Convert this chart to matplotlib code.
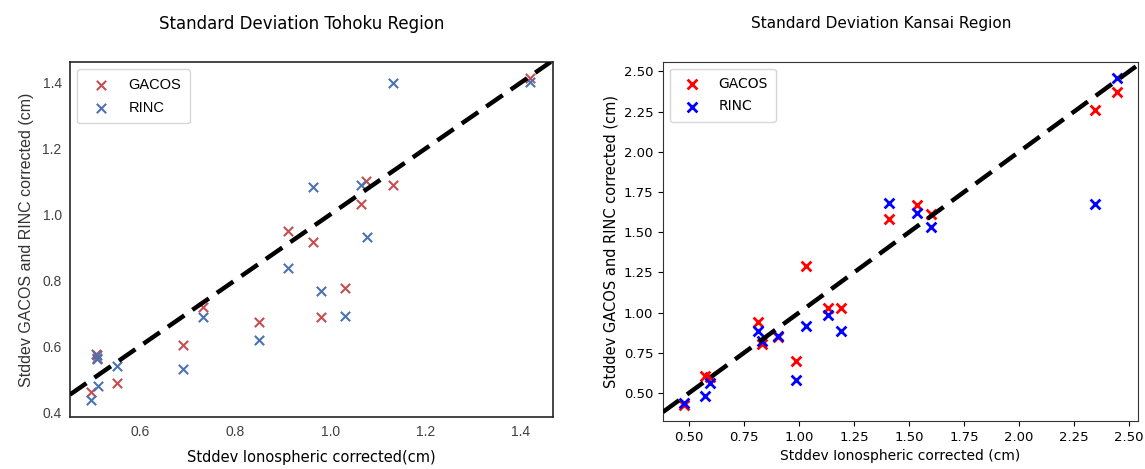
import matplotlib
matplotlib.use("Agg")
import matplotlib.pyplot as plt

# ---- Tohoku data ----
toh_gacos_x = [1.421, 1.076, 1.132, 1.065, 0.911, 0.965, 1.032, 0.981, 0.732, 0.851, 0.690, 0.508, 0.510, 0.551, 0.498]
toh_gacos_y = [1.415, 1.103, 1.091, 1.032, 0.949, 0.917, 0.778, 0.689, 0.718, 0.675, 0.605, 0.575, 0.563, 0.489, 0.462]
toh_rinc_x = [1.421, 1.132, 0.965, 1.065, 1.077, 0.911, 0.981, 1.032, 0.732, 0.851, 0.690, 0.510, 0.510, 0.551, 0.512, 0.498]
toh_rinc_y = [1.404, 1.400, 1.083, 1.091, 0.932, 0.838, 0.769, 0.692, 0.689, 0.619, 0.531, 0.573, 0.560, 0.541, 0.480, 0.436]

# ---- Kansai data ----
kan_gacos_x = [2.443, 2.344, 1.538, 1.599, 1.409, 1.033, 1.132, 1.190, 0.814, 0.834, 0.905, 0.988, 0.571, 0.594, 0.477]
kan_gacos_y = [2.372, 2.262, 1.667, 1.613, 1.584, 1.287, 1.029, 1.029, 0.939, 0.805, 0.850, 0.697, 0.603, 0.597, 0.423]
kan_rinc_x = [2.443, 2.344, 1.409, 1.538, 1.602, 1.132, 1.033, 1.190, 0.814, 0.834, 0.905, 0.988, 0.594, 0.571, 0.477]
kan_rinc_y = [2.459, 1.677, 1.682, 1.619, 1.530, 0.983, 0.914, 0.887, 0.887, 0.825, 0.852, 0.583, 0.562, 0.479, 0.438]

toh_xticks = [0.6, 0.8, 1.0, 1.2, 1.4]
toh_yticks = [0.4, 0.6, 0.8, 1.0, 1.2, 1.4]
kan_ticks = [0.50, 0.75, 1.00, 1.25, 1.50, 1.75, 2.00, 2.25, 2.50]

fig = plt.figure(figsize=(11.45, 4.69), dpi=100)

# ---------------- Left (Tohoku) ----------------
ax1 = fig.add_axes([0.0611, 0.111, 0.422, 0.757])
ax1.scatter(toh_gacos_x, toh_gacos_y, marker='x', s=45, linewidths=1.5, color='#c44e52', label='GACOS', zorder=3)
ax1.scatter(toh_rinc_x, toh_rinc_y, marker='x', s=45, linewidths=1.5, color='#4c72b0', label='RINC', zorder=3)
ax1.axline((0, 0), slope=1, color='black', linestyle=(0, (4.5, 2.2)), linewidth=3.2, zorder=4)
ax1.set_xlim(0.453, 1.469)
ax1.set_ylim(0.385, 1.464)
ax1.set_xticks(toh_xticks)
ax1.set_yticks(toh_yticks)
ax1.set_xticklabels([f"{t:.1f}" for t in toh_xticks], family='Liberation Sans', fontsize=10, color='#404040')
ax1.set_yticklabels([f"{t:.1f}" for t in toh_yticks], family='Liberation Sans', fontsize=10, color='#404040')
ax1.tick_params(length=0, pad=6)
for sp in ax1.spines.values():
    sp.set_color('#262626')
    sp.set_linewidth(1.2)
ax1.set_title('Standard Deviation Tohoku Region', fontsize=12, pad=24, x=0.48)
ax1.set_xlabel('Stddev Ionospheric corrected(cm)', fontsize=10.5, labelpad=8)
ax1.set_ylabel('Stddev GACOS and RINC corrected (cm)', family='Liberation Sans', fontsize=11.5, labelpad=6, color='#333333')
leg1 = ax1.legend(loc='upper left', prop={'family': 'Liberation Sans', 'size': 10.5},
                  frameon=True, borderpad=0.6, handletextpad=0.9, labelspacing=0.6)
leg1.get_frame().set_edgecolor('#cccccc')

# ---------------- Right (Kansai) ----------------
ax2 = fig.add_axes([0.579, 0.1023, 0.415, 0.766])
ax2.scatter(kan_gacos_x, kan_gacos_y, marker='x', s=50, linewidths=2, color='red', label='GACOS', zorder=3)
ax2.scatter(kan_rinc_x, kan_rinc_y, marker='x', s=50, linewidths=2, color='blue', label='RINC', zorder=3)
ax2.axline((0, 0), slope=1, color='black', linestyle=(0, (4.5, 2.2)), linewidth=3.2, zorder=4)
ax2.set_xlim(0.382, 2.541)
ax2.set_ylim(0.326, 2.56)
ax2.set_xticks(kan_ticks)
ax2.set_yticks(kan_ticks)
ax2.set_xticklabels([f"{t:.2f}" for t in kan_ticks], fontsize=9.5)
ax2.set_yticklabels([f"{t:.2f}" for t in kan_ticks], fontsize=9.5)
for sp in ax2.spines.values():
    sp.set_color('#333333')
ax2.set_title('Standard Deviation Kansai Region', fontsize=11, pad=24, x=0.46)
ax2.set_xlabel('Stddev Ionospheric corrected (cm)', fontsize=10)
ax2.set_ylabel('Stddev GACOS and RINC corrected (cm)', fontsize=10.5)
ax2.legend(loc='upper left', fontsize=10, borderpad=0.6, handletextpad=0.9, labelspacing=0.6)

fig.savefig('out.png', dpi=100)
